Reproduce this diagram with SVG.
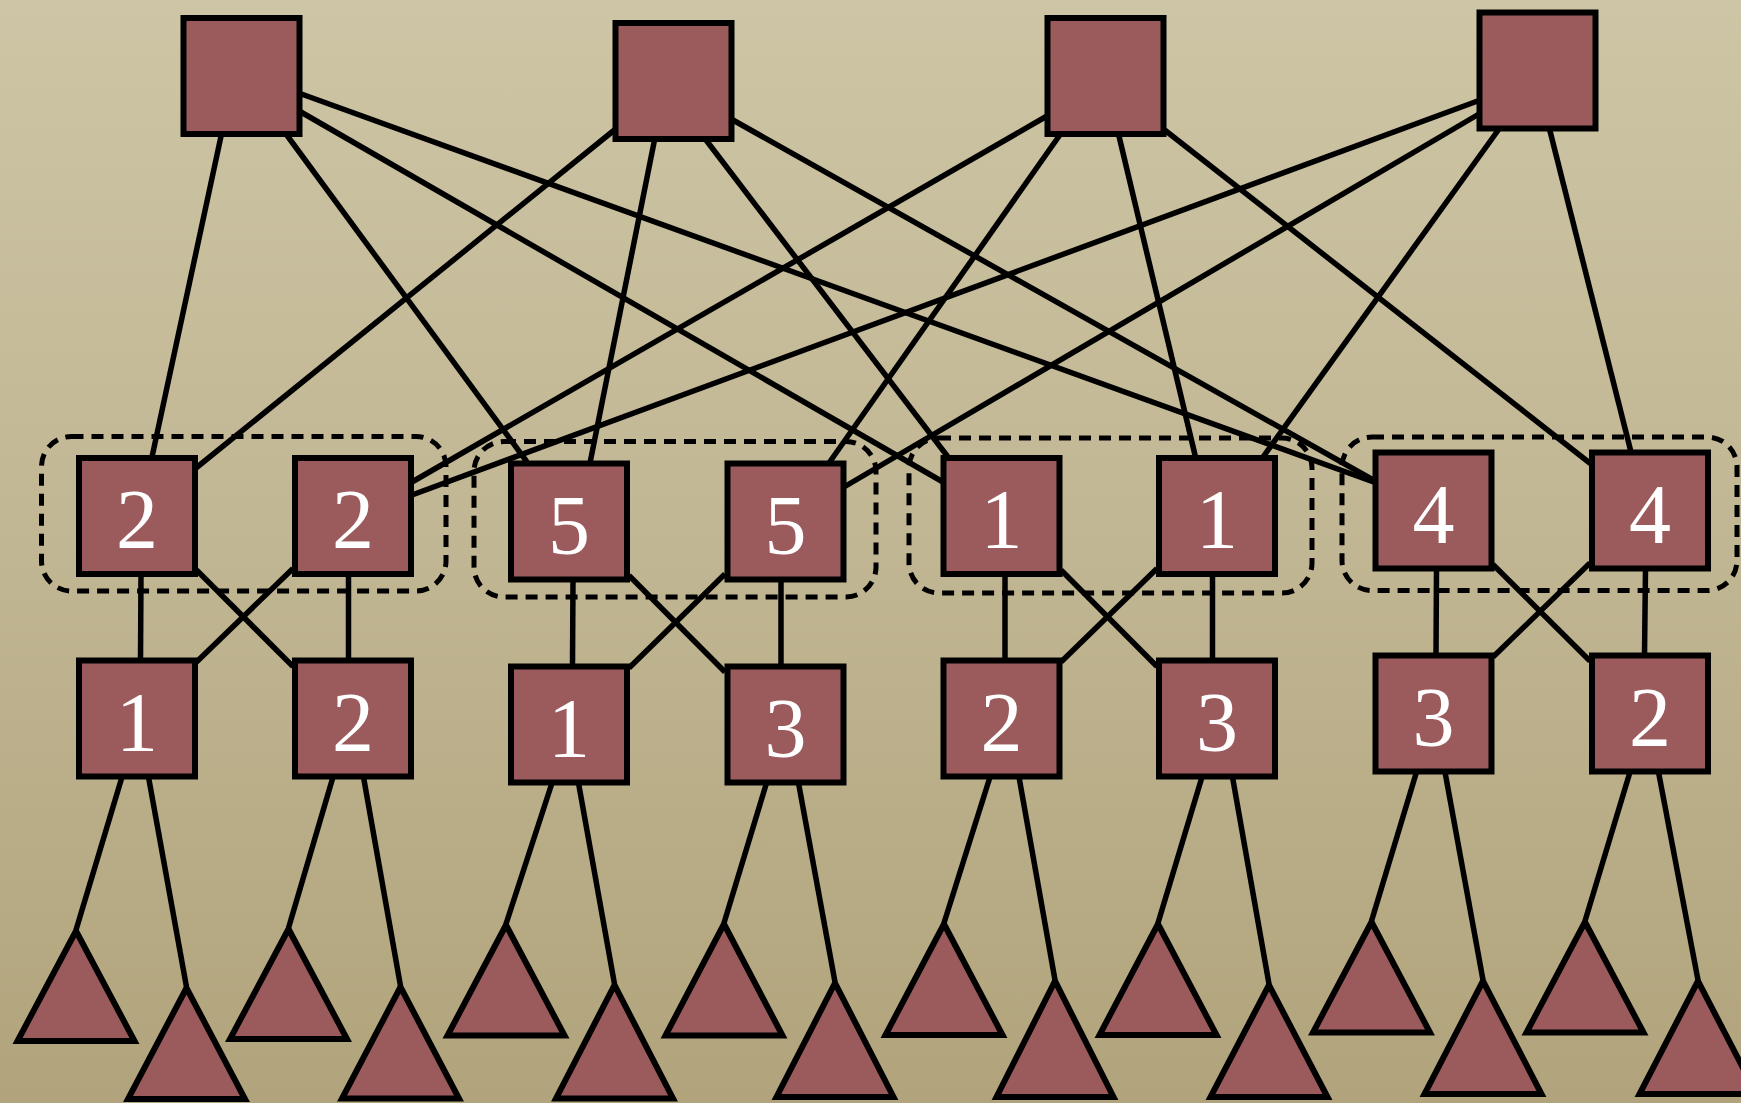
<svg xmlns="http://www.w3.org/2000/svg" width="1741" height="1103" viewBox="0 0 1741 1103">
<defs>
<linearGradient id="bg" x1="0" y1="0" x2="0" y2="1">
<stop offset="0" stop-color="#cdc5a5"/>
<stop offset="0.5" stop-color="#c1b693"/>
<stop offset="1" stop-color="#b1a47c"/>
</linearGradient>
</defs>
<style>
.n{fill:#9b5a5c;stroke:#000;stroke-width:6}
.tri{fill:#9b5a5c;stroke:#000;stroke-width:6;stroke-linejoin:miter}
.t{fill:#fff;font-family:"Liberation Serif","Times New Roman",serif;font-size:84px;text-anchor:middle}
.e{stroke:#000;stroke-width:5.5;fill:none;stroke-linecap:butt}
.grp{fill:none;stroke:#000;stroke-width:5;stroke-dasharray:12 8}
</style>
<rect x="0" y="0" width="1741" height="1103" fill="url(#bg)"/>

<g id="groups">
<rect class="grp" x="41.5" y="436.5" width="404.5" height="154.5" rx="30"/>
<rect class="grp" x="474" y="441.5" width="402" height="155.5" rx="30"/>
<rect class="grp" x="909" y="438" width="403" height="155" rx="30"/>
<rect class="grp" x="1342" y="437" width="395" height="153.5" rx="30"/>
</g>

<g id="connectors">
<line class="e" x1="221.5" y1="134" x2="152" y2="457"/>
<line class="e" x1="286" y1="134" x2="527" y2="462"/>
<line class="e" x1="300" y1="111.5" x2="943" y2="482"/>
<line class="e" x1="300" y1="93.5" x2="1375" y2="482.5"/>
<line class="e" x1="615" y1="129.5" x2="196" y2="468"/>
<line class="e" x1="654.5" y1="140" x2="590" y2="463"/>
<line class="e" x1="706" y1="140" x2="948" y2="457"/>
<line class="e" x1="732" y1="119.5" x2="1375" y2="481"/>
<line class="e" x1="1047" y1="116" x2="412" y2="482"/>
<line class="e" x1="1060.5" y1="134" x2="829" y2="463"/>
<line class="e" x1="1118.5" y1="134" x2="1195.5" y2="457"/>
<line class="e" x1="1164" y1="129.5" x2="1591" y2="464"/>
<line class="e" x1="1479" y1="100.5" x2="412" y2="495"/>
<line class="e" x1="1479" y1="114" x2="844" y2="487"/>
<line class="e" x1="1499" y1="129" x2="1263" y2="457"/>
<line class="e" x1="1549.5" y1="129" x2="1631" y2="452"/>
<line class="e" x1="141" y1="575" x2="140.5" y2="660"/>
<line class="e" x1="348.5" y1="575" x2="348.5" y2="660"/>
<line class="e" x1="196.5" y1="570" x2="293" y2="666.5"/>
<line class="e" x1="293" y1="568.5" x2="196.5" y2="662"/>
<line class="e" x1="573" y1="580" x2="572.5" y2="666"/>
<line class="e" x1="781" y1="580" x2="781" y2="666"/>
<line class="e" x1="629" y1="575.5" x2="725" y2="672"/>
<line class="e" x1="725" y1="574" x2="629" y2="668"/>
<line class="e" x1="1005" y1="575" x2="1005" y2="660"/>
<line class="e" x1="1212.5" y1="575" x2="1212.5" y2="660"/>
<line class="e" x1="1061" y1="570" x2="1157" y2="666.5"/>
<line class="e" x1="1157" y1="568.5" x2="1061" y2="662"/>
<line class="e" x1="1436.5" y1="569" x2="1436" y2="655"/>
<line class="e" x1="1645.5" y1="569" x2="1644.5" y2="655"/>
<line class="e" x1="1493" y1="564.5" x2="1590" y2="661"/>
<line class="e" x1="1590" y1="563" x2="1493" y2="657"/>
<line class="e" x1="122" y1="777" x2="76" y2="930"/>
<line class="e" x1="148.5" y1="777" x2="186.5" y2="987"/>
<line class="e" x1="333" y1="777" x2="288.5" y2="928"/>
<line class="e" x1="363.5" y1="777" x2="400.5" y2="986"/>
<line class="e" x1="552" y1="783" x2="506" y2="924"/>
<line class="e" x1="578.5" y1="783" x2="614.5" y2="984"/>
<line class="e" x1="766.5" y1="783" x2="724" y2="923"/>
<line class="e" x1="798.5" y1="783" x2="835" y2="982"/>
<line class="e" x1="990" y1="777" x2="944" y2="923"/>
<line class="e" x1="1019" y1="777" x2="1055" y2="980"/>
<line class="e" x1="1202" y1="777" x2="1158" y2="923"/>
<line class="e" x1="1232.5" y1="777" x2="1269" y2="984"/>
<line class="e" x1="1416.5" y1="772" x2="1371.5" y2="921"/>
<line class="e" x1="1445" y1="772" x2="1483" y2="980"/>
<line class="e" x1="1630" y1="772" x2="1585" y2="921"/>
<line class="e" x1="1658.5" y1="772" x2="1698" y2="980"/>
</g>

<g id="top1"><rect class="n" x="183.5" y="18" width="116" height="116"/></g>
<g id="top2"><rect class="n" x="615.5" y="23" width="116" height="116"/></g>
<g id="top3"><rect class="n" x="1047.5" y="18" width="116" height="116"/></g>
<g id="top4"><rect class="n" x="1479.5" y="12.5" width="116" height="116"/></g>

<g id="r1a"><rect class="n" x="79" y="458" width="116" height="116"/><text class="t" x="137" y="548">2</text></g>
<g id="r1b"><rect class="n" x="295" y="458" width="116" height="116"/><text class="t" x="353" y="548">2</text></g>
<g id="r1c"><rect class="n" x="511" y="463.5" width="116" height="116"/><text class="t" x="569" y="553.5">5</text></g>
<g id="r1d"><rect class="n" x="727.5" y="463.5" width="116" height="116"/><text class="t" x="785.5" y="553.5">5</text></g>
<g id="r1e"><rect class="n" x="943.5" y="458" width="116" height="116"/><text class="t" x="1001.5" y="548">1</text></g>
<g id="r1f"><rect class="n" x="1159" y="458" width="116" height="116"/><text class="t" x="1217" y="548">1</text></g>
<g id="r1g"><rect class="n" x="1375.5" y="452.5" width="116" height="116"/><text class="t" x="1433.5" y="542.5">4</text></g>
<g id="r1h"><rect class="n" x="1592" y="452.5" width="116" height="116"/><text class="t" x="1650" y="542.5">4</text></g>

<g id="r2a"><rect class="n" x="79" y="660.5" width="116" height="116"/><text class="t" x="137" y="750.5">1</text></g>
<g id="r2b"><rect class="n" x="295" y="660.5" width="116" height="116"/><text class="t" x="353" y="750.5">2</text></g>
<g id="r2c"><rect class="n" x="511" y="666.5" width="116" height="116"/><text class="t" x="569" y="756.5">1</text></g>
<g id="r2d"><rect class="n" x="727.5" y="666.5" width="116" height="116"/><text class="t" x="785.5" y="756.5">3</text></g>
<g id="r2e"><rect class="n" x="943.5" y="660.5" width="116" height="116"/><text class="t" x="1001.5" y="750.5">2</text></g>
<g id="r2f"><rect class="n" x="1159" y="660.5" width="116" height="116"/><text class="t" x="1217" y="750.5">3</text></g>
<g id="r2g"><rect class="n" x="1375.5" y="655.5" width="116" height="116"/><text class="t" x="1433.5" y="745.5">3</text></g>
<g id="r2h"><rect class="n" x="1592" y="655.5" width="116" height="116"/><text class="t" x="1650" y="745.5">2</text></g>

<g id="tri1"><polygon class="tri" points="76,931 17.5,1041 134.5,1041"/></g>
<g id="tri2"><polygon class="tri" points="186.5,988 128,1099 245,1099"/></g>
<g id="tri3"><polygon class="tri" points="288.5,929 230,1039 347,1039"/></g>
<g id="tri4"><polygon class="tri" points="400.5,987 342,1098.5 459,1098.5"/></g>
<g id="tri5"><polygon class="tri" points="506,925 447.5,1035.5 564.5,1035.5"/></g>
<g id="tri6"><polygon class="tri" points="614.5,985 556,1098.5 673,1098.5"/></g>
<g id="tri7"><polygon class="tri" points="724,924 665.5,1035.5 782.5,1035.5"/></g>
<g id="tri8"><polygon class="tri" points="835,983 776.5,1097 893.5,1097"/></g>
<g id="tri9"><polygon class="tri" points="944,924 885.5,1035 1002.5,1035"/></g>
<g id="tri10"><polygon class="tri" points="1055,981 996.5,1097 1113.5,1097"/></g>
<g id="tri11"><polygon class="tri" points="1158,924 1099.5,1035 1216.5,1035"/></g>
<g id="tri12"><polygon class="tri" points="1269,985 1210.5,1097 1327.5,1097"/></g>
<g id="tri13"><polygon class="tri" points="1371.5,922 1313,1032.5 1430,1032.5"/></g>
<g id="tri14"><polygon class="tri" points="1483,981 1424.5,1094 1541.5,1094"/></g>
<g id="tri15"><polygon class="tri" points="1585,922 1526.5,1032.5 1643.5,1032.5"/></g>
<g id="tri16"><polygon class="tri" points="1698,981 1639.5,1094 1756.5,1094"/></g>
</svg>
